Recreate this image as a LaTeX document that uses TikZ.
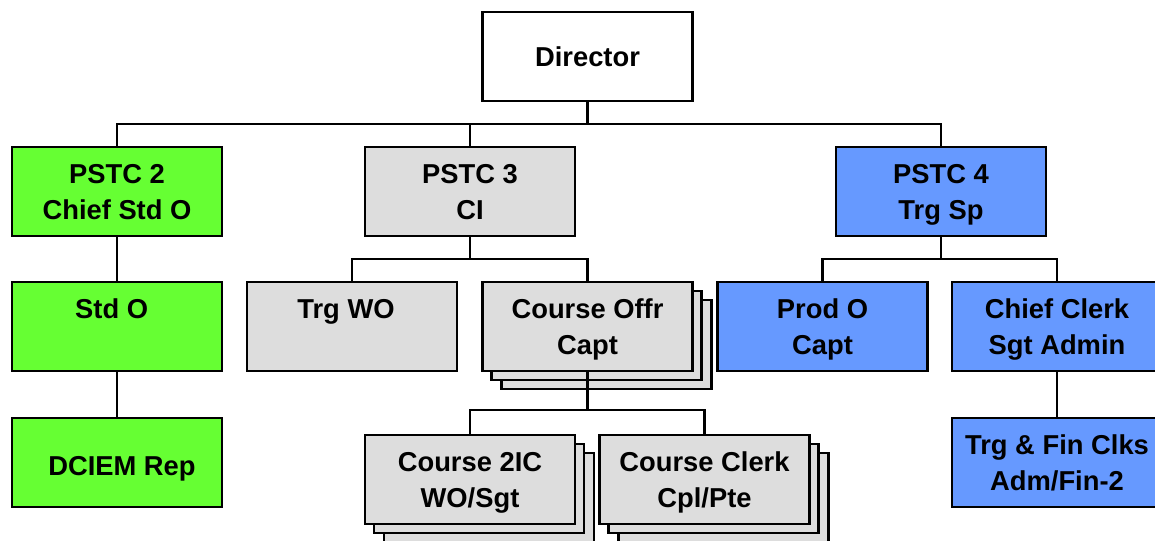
\documentclass[tikz,border=0pt]{standalone}
\usepackage{fontspec}
\setmainfont{Liberation Sans}
\usetikzlibrary{backgrounds}
\definecolor{orggreen}{HTML}{66FF33}
\definecolor{orggray}{HTML}{DDDDDD}
\definecolor{orgblue}{HTML}{6699FF}
\tikzset{
  box/.style={draw, line width=2.1pt, outer sep=0pt, inner sep=0pt,
    minimum width=157.5pt, minimum height=66.75pt, align=center,
    text height=41.7pt, text depth=0pt,
    font=\fontsize{20.5}{27}\selectfont\bfseries},
  oneline/.style={text height=14.7pt},
  greenbox/.style={box, fill=orggreen},
  graybox/.style={box, fill=orggray},
  bluebox/.style={box, fill=orgblue},
  shadowbox/.style={draw, line width=2.1pt, fill=orggray},
  link/.style={draw, line width=1.9pt}
}
% two offset copies behind a stacked box
\newcommand\stackbehind[1]{%
  \begin{scope}[on background layer]
    \foreach \d/\e in {19/18,9/9}{%
      \path[shadowbox] ([shift={(\d,\e)}]#1.north west) rectangle ([shift={(\d,\e)}]#1.south east);
    }
  \end{scope}}
\begin{document}
\begin{tikzpicture}[x=0.75pt, y=-0.75pt]
\useasboundingbox (0,0) rectangle (1155,540);

% top
\node[box, oneline, fill=white] (dir) at (587.5,56.5) {Director};

% second row
\node[greenbox] (p2) at (117,191.5) {PSTC 2\\Chief Std O};
\node[graybox]  (p3) at (470,191.5) {PSTC 3\\CI};
\node[bluebox]  (p4) at (941,191.5) {PSTC 4\\Trg Sp};

% third row
\node[greenbox] (stdo) at (117,326.5) {Std O\hspace*{8pt}\\\mbox{}};
\node[graybox]  (trgwo) at (352,326.5) {Trg WO\hspace*{9pt}\\\mbox{}};
\node[graybox]  (co) at (587.5,326.5) {Course Offr\\Capt};
\node[bluebox]  (prodo) at (822.5,326.5) {Prod O\\Capt};
\node[bluebox]  (cc) at (1057,326.5) {Chief Clerk\\Sgt Admin};

% fourth row
\node[greenbox, text height=19.9pt] (dciem) at (117,462.5) {\hspace*{7.5pt}DCIEM Rep};
\node[graybox]  (c2ic) at (470,479.5) {Course 2IC\\WO/Sgt};
\node[graybox]  (ccl) at (704.5,479.5) {Course Clerk\\Cpl/Pte};
\node[bluebox]  (tfc) at (1057,462.5) {Trg \& Fin Clks\\Adm/Fin-2};

\stackbehind{co}
\stackbehind{c2ic}
\stackbehind{ccl}

% connectors
\coordinate (j1) at (587.5,124);
\draw[link] (dir.south) -- (j1);
\draw[link] (p2.north) |- (j1) -| (p4.north);
\draw[link] (p3.north) -- (p3.north |- j1);

\draw[link] (p2) -- (stdo);
\draw[link] (stdo) -- (dciem);

\coordinate (j3) at (470,259);
\draw[link] (p3.south) -- (j3);
\draw[link] (trgwo.north) |- (j3) -| (co.north);

\coordinate (j4) at (941,259);
\draw[link] (p4.south) -- (j4);
\draw[link] (prodo.north) |- (j4) -| (cc.north);

\draw[link] (cc) -- (tfc);

\coordinate (j5) at (587.5,410);
\draw[link] (co.south) -- (j5);
\draw[link] (c2ic.north) |- (j5) -| (ccl.north);
\end{tikzpicture}
\end{document}
